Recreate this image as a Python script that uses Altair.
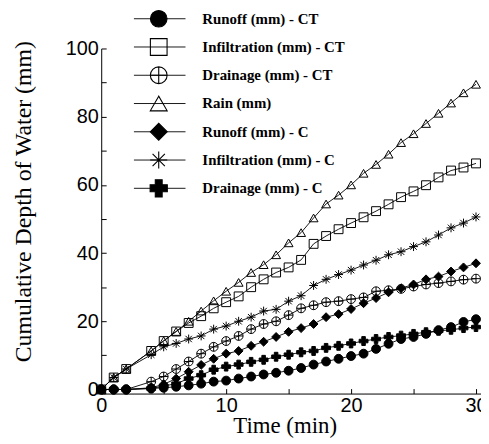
import altair as alt
import pandas as pd

# ---- data ----
times = [0, 1, 2, 4, 5, 6, 7, 8, 9, 10, 11, 12, 13, 14, 15, 16, 17, 18, 19, 20,
         21, 22, 23, 24, 25, 26, 27, 28, 29, 30]

runoff_ct = [0, 0, 0, 0.3, 0.5, 0.8, 1.2, 1.7, 2.3, 2.6, 3.2, 3.8, 4.4, 4.9, 5.5,
             6.3, 7.3, 8.2, 9.0, 9.8, 10.5, 11.9, 13.4, 14.8, 15.4, 16.3, 17.4, 18.3, 19.8, 20.6]
infil_ct = [0, 3.5, 6, 11.3, 14.2, 17, 19.5, 21.5, 23.8, 25.6, 27.3, 30, 32.3, 34.3, 35.8,
            38, 42.7, 45, 47, 48.8, 50.5, 52.3, 54.3, 56.4, 58.1, 59.9, 62.2, 64.2, 65.1, 66.3]
drain_ct = [0, 0, 0, 2.3, 3.8, 6, 8.2, 10.5, 12.5, 14.2, 15.7, 17.7, 19.2, 20, 21.8,
            23.8, 24.7, 25.6, 25.9, 26.5, 27, 28.8, 29.1, 29.5, 30.2, 30.8, 31.2, 31.7, 32.2, 32.5]
rain = [0, 3.5, 6, 11.3, 14.3, 17, 20, 23, 26, 28.8, 31.4, 34.3, 36.6, 39.5, 43,
        46, 50.3, 54.4, 57, 60, 63.4, 66, 69, 72.4, 75, 78, 81, 84, 87, 89.5]
runoff_c = [0, 0, 0, 0.5, 1.5, 3.2, 5.2, 7.2, 9, 10.5, 11.3, 12.8, 14, 15.4, 16.9,
            18, 19.2, 21.2, 22.1, 23.6, 25.3, 26.8, 28.5, 29.7, 30.8, 32.3, 33.1, 34.6, 35.8, 37]
infil_c = [0, 3.5, 6, 10.2, 12.5, 13.5, 14.8, 15.7, 17.7, 18.6, 20, 21.2, 23, 23.5, 25.9,
           27.5, 30.5, 32.3, 33.7, 35, 36.5, 37.9, 39.5, 40.4, 41.9, 43.3, 45.3, 47.4, 48.8, 50.6]
drain_c = [0, 0, 0, 0.3, 1, 1.7, 3.2, 4.2, 5.8, 6.7, 7.3, 8.1, 8.7, 9.6, 10.2,
           10.9, 11.3, 12.2, 12.8, 13.5, 14.2, 14.8, 15.4, 15.8, 16.3, 16.8, 17.2, 17.5, 18, 18.3]

series_names = ["Runoff (mm) - CT", "Infiltration (mm) - CT", "Drainage (mm) - CT",
                "Rain (mm)", "Runoff (mm) - C", "Infiltration (mm) - C", "Drainage (mm) - C"]
series_values = [runoff_ct, infil_ct, drain_ct, rain, runoff_c, infil_c, drain_c]

x_ticks = [0, 5, 10, 15, 20, 25, 30]
y_ticks = [0, 10, 20, 30, 40, 50, 60, 70, 80, 90, 100]

# ---- tables ----
rows = []
for name, vals in zip(series_names, series_values):
    for t, v in zip(times, vals):
        rows.append({"series": name, "time": t, "value": v})
df = pd.DataFrame(rows)
legend_df = pd.DataFrame({"series": series_names})

# ---- styles ----
CIRCLE_PLUS = "M-1,0A1,1,0,1,1,1,0A1,1,0,1,1,-1,0ZM-1,0L1,0M0,-1L0,1"
ASTERISK = "M-1,0L1,0M0,-1L0,1M-0.72,-0.72L0.72,0.72M-0.72,0.72L0.72,-0.72"
shape_range = ["circle", "square", CIRCLE_PLUS, "triangle-up", "diamond", ASTERISK, "cross"]
fill_range = ["black", "transparent", "transparent", "transparent", "black", "black", "black"]
data_sizes = [80, 80, 85, 45, 60, 90, 80]
legend_sizes = [280, 300, 300, 200, 300, 380, 240]

shape_enc = alt.Shape("series:N", scale=alt.Scale(domain=series_names, range=shape_range), legend=None)
fill_enc = alt.Fill("series:N", scale=alt.Scale(domain=series_names, range=fill_range), legend=None)

x_enc = alt.X(
    "time:Q",
    scale=alt.Scale(domain=[0, 30.4], nice=False, zero=False),
    axis=alt.Axis(
        values=x_ticks,
        labelExpr="datum.value % 10 === 0 ? datum.label : ''",
        title="Time (min)",
        tickSize=alt.ExprRef(expr="-5"),
        labelPadding=7,
        labelFlush=False,
        labelOverlap=False,
        titleX=185, titleY=39, titleBaseline="alphabetic", titleAlign="center",
    ),
)
y_enc = alt.Y(
    "value:Q",
    scale=alt.Scale(domain=[-1.2, 100], nice=False, zero=False),
    axis=alt.Axis(
        values=y_ticks,
        labelExpr="datum.value % 20 === 0 ? datum.label : ''",
        title="Cumulative Depth of Water (mm)",
        tickSize=alt.ExprRef(expr="-5"),
        labelPadding=8,
        labelOverlap=False,
        labelFlush=False,
        titleX=-78, titleY=154, titleAngle=-90, titleBaseline="middle", titleAlign="center",
        titleFontSize=24,
    ),
)

base = alt.Chart(df)
lines = base.mark_line(color="black", strokeWidth=0.9).encode(
    x=x_enc, y=y_enc, detail="series:N"
)
points = base.mark_point(stroke="black", strokeWidth=1, opacity=1, filled=False).encode(
    x=x_enc, y=y_enc,
    shape=shape_enc, fill=fill_enc,
    size=alt.Size("series:N", scale=alt.Scale(domain=series_names, range=data_sizes), legend=None),
)
data_layer = alt.layer(lines, points)

leg_y = alt.Y("series:N", scale=alt.Scale(type="point", domain=series_names, range=[-30, 141], padding=0), axis=None)
lbase = alt.Chart(legend_df)
leg_rule = lbase.mark_rule(color="black", strokeWidth=0.9).encode(
    x=alt.value(33), x2=alt.value(85), y=leg_y
)
leg_pts = lbase.mark_point(stroke="black", strokeWidth=1.1, opacity=1, filled=False).encode(
    x=alt.value(58), y=leg_y,
    shape=shape_enc, fill=fill_enc,
    size=alt.Size("series:N", scale=alt.Scale(domain=series_names, range=legend_sizes), legend=None),
)
leg_text = lbase.mark_text(align="left", baseline="middle", font="Liberation Serif",
                           fontWeight="bold", fontSize=15, color="black").encode(
    x=alt.value(102), y=leg_y, text="series:N"
)
legend_layer = alt.layer(leg_rule, leg_pts, leg_text)

chart = (
    alt.layer(data_layer, legend_layer)
    .resolve_scale(y="independent", size="independent")
    .properties(
        width=383, height=348,
        padding={"left": 94, "top": 39, "right": 0, "bottom": 45},
        autosize=alt.AutoSizeParams(type="none"),
    )
    .configure_view(stroke=None)
    .configure_axis(
        grid=False,
        domainColor="black", domainWidth=1,
        tickColor="black", tickWidth=1,
        labelColor="black", labelFont="Liberation Sans", labelFontSize=20,
        titleColor="black", titleFont="Liberation Serif", titleFontSize=23, titleFontWeight="normal",
    )
)

chart.save("out.html", embed_options={"renderer": "svg", "actions": False})
